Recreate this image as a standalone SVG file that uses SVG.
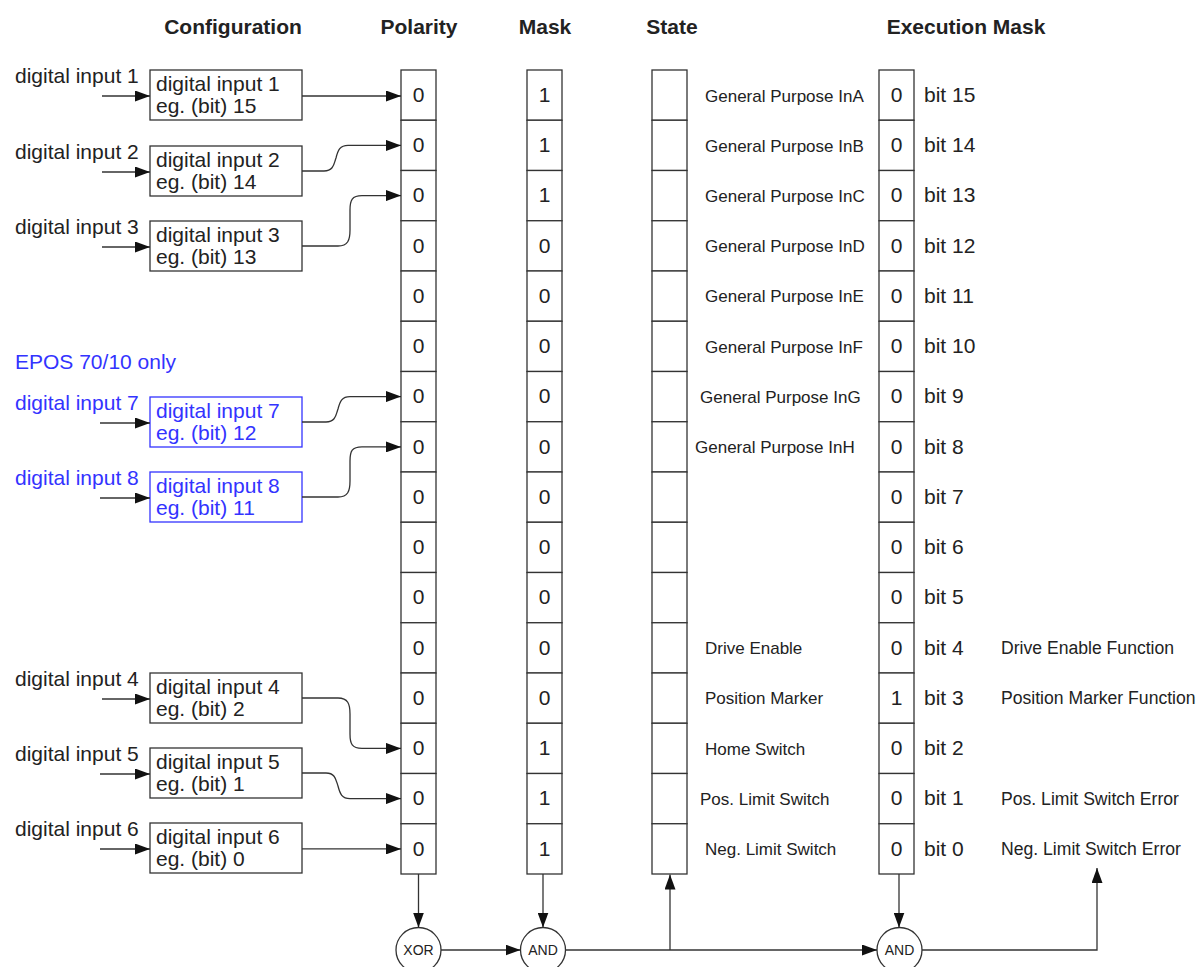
<svg xmlns="http://www.w3.org/2000/svg" width="1200" height="967" viewBox="0 0 1200 967">
<style>
text{font-family:"Liberation Sans",Arial,sans-serif;fill:#222}
.h{font-size:21px;font-weight:bold;text-anchor:middle}
.t{font-size:21px}
.c{font-size:21px;text-anchor:middle}
.s{font-size:17px}
.f{font-size:17.6px}
.g{font-size:14px;text-anchor:middle}
.blue{fill:#3333ff}
.box{fill:#fff;stroke:#333;stroke-width:1.3}
.bbox{fill:#fff;stroke:#3333ff;stroke-width:1.3}
.cell{fill:#fff;stroke:#333;stroke-width:1.3}
.ln{fill:none;stroke:#333;stroke-width:1.3}
.gate{fill:#fff;stroke:#333;stroke-width:1.3}
</style>
<defs>
<marker id="ah" markerUnits="userSpaceOnUse" markerWidth="15" markerHeight="11" refX="15" refY="5.5" orient="auto">
<path d="M0,0 L15,5.5 L0,11 z" fill="#111"/>
</marker>
</defs>
<rect width="1200" height="967" fill="#fff"/>

<g id="headers">
<text class="h" x="233" y="34">Configuration</text>
<text class="h" x="419" y="34">Polarity</text>
<text class="h" x="545" y="34">Mask</text>
<text class="h" x="672" y="34">State</text>
<text class="h" x="966" y="34">Execution Mask</text>
</g>

<g id="labels">
<text class="t" x="15" y="83">digital input 1</text>
<text class="t" x="15" y="159">digital input 2</text>
<text class="t" x="15" y="234">digital input 3</text>
<text class="t blue" x="15" y="369">EPOS 70/10 only</text>
<text class="t blue" x="15" y="410">digital input 7</text>
<text class="t blue" x="15" y="485">digital input 8</text>
<text class="t" x="15" y="686">digital input 4</text>
<text class="t" x="15" y="761">digital input 5</text>
<text class="t" x="15" y="836">digital input 6</text>
</g>

<g id="cfg1"><rect class="box" x="150" y="70" width="152" height="50"/><text class="t" x="156" y="91">digital input 1</text><text class="t" x="156" y="112.5">eg. (bit) 15</text></g>
<g id="cfg2"><rect class="box" x="150" y="146" width="152" height="50"/><text class="t" x="156" y="167">digital input 2</text><text class="t" x="156" y="188.5">eg. (bit) 14</text></g>
<g id="cfg3"><rect class="box" x="150" y="221" width="152" height="50"/><text class="t" x="156" y="242">digital input 3</text><text class="t" x="156" y="263.5">eg. (bit) 13</text></g>
<g id="cfg7"><rect class="bbox" x="150" y="397" width="152" height="50"/><text class="t blue" x="156" y="418">digital input 7</text><text class="t blue" x="156" y="439.5">eg. (bit) 12</text></g>
<g id="cfg8"><rect class="bbox" x="150" y="472" width="152" height="50"/><text class="t blue" x="156" y="493">digital input 8</text><text class="t blue" x="156" y="514.5">eg. (bit) 11</text></g>
<g id="cfg4"><rect class="box" x="150" y="673" width="152" height="50"/><text class="t" x="156" y="694">digital input 4</text><text class="t" x="156" y="715.5">eg. (bit) 2</text></g>
<g id="cfg5"><rect class="box" x="150" y="748" width="152" height="50"/><text class="t" x="156" y="769">digital input 5</text><text class="t" x="156" y="790.5">eg. (bit) 1</text></g>
<g id="cfg6"><rect class="box" x="150" y="823" width="152" height="50"/><text class="t" x="156" y="844">digital input 6</text><text class="t" x="156" y="865.5">eg. (bit) 0</text></g>

<g id="polarity">
<rect class="cell" x="401" y="70" width="35" height="50.25"/><rect class="cell" x="401" y="120.25" width="35" height="50.25"/><rect class="cell" x="401" y="170.5" width="35" height="50.25"/><rect class="cell" x="401" y="220.75" width="35" height="50.25"/>
<rect class="cell" x="401" y="271" width="35" height="50.25"/><rect class="cell" x="401" y="321.25" width="35" height="50.25"/><rect class="cell" x="401" y="371.5" width="35" height="50.25"/><rect class="cell" x="401" y="421.75" width="35" height="50.25"/>
<rect class="cell" x="401" y="472" width="35" height="50.25"/><rect class="cell" x="401" y="522.25" width="35" height="50.25"/><rect class="cell" x="401" y="572.5" width="35" height="50.25"/><rect class="cell" x="401" y="622.75" width="35" height="50.25"/>
<rect class="cell" x="401" y="673" width="35" height="50.25"/><rect class="cell" x="401" y="723.25" width="35" height="50.25"/><rect class="cell" x="401" y="773.5" width="35" height="50.25"/><rect class="cell" x="401" y="823.75" width="35" height="50.25"/>
<text class="c" x="418.5" y="102">0</text><text class="c" x="418.5" y="152">0</text><text class="c" x="418.5" y="202">0</text><text class="c" x="418.5" y="252.5">0</text>
<text class="c" x="418.5" y="302.5">0</text><text class="c" x="418.5" y="353">0</text><text class="c" x="418.5" y="403">0</text><text class="c" x="418.5" y="453.5">0</text>
<text class="c" x="418.5" y="503.5">0</text><text class="c" x="418.5" y="554">0</text><text class="c" x="418.5" y="604">0</text><text class="c" x="418.5" y="654.5">0</text>
<text class="c" x="418.5" y="704.5">0</text><text class="c" x="418.5" y="755">0</text><text class="c" x="418.5" y="805">0</text><text class="c" x="418.5" y="855.5">0</text>
</g>

<g id="mask">
<rect class="cell" x="527" y="70" width="35" height="50.25"/><rect class="cell" x="527" y="120.25" width="35" height="50.25"/><rect class="cell" x="527" y="170.5" width="35" height="50.25"/><rect class="cell" x="527" y="220.75" width="35" height="50.25"/>
<rect class="cell" x="527" y="271" width="35" height="50.25"/><rect class="cell" x="527" y="321.25" width="35" height="50.25"/><rect class="cell" x="527" y="371.5" width="35" height="50.25"/><rect class="cell" x="527" y="421.75" width="35" height="50.25"/>
<rect class="cell" x="527" y="472" width="35" height="50.25"/><rect class="cell" x="527" y="522.25" width="35" height="50.25"/><rect class="cell" x="527" y="572.5" width="35" height="50.25"/><rect class="cell" x="527" y="622.75" width="35" height="50.25"/>
<rect class="cell" x="527" y="673" width="35" height="50.25"/><rect class="cell" x="527" y="723.25" width="35" height="50.25"/><rect class="cell" x="527" y="773.5" width="35" height="50.25"/><rect class="cell" x="527" y="823.75" width="35" height="50.25"/>
<text class="c" x="544.5" y="102">1</text><text class="c" x="544.5" y="152">1</text><text class="c" x="544.5" y="202">1</text><text class="c" x="544.5" y="252.5">0</text>
<text class="c" x="544.5" y="302.5">0</text><text class="c" x="544.5" y="353">0</text><text class="c" x="544.5" y="403">0</text><text class="c" x="544.5" y="453.5">0</text>
<text class="c" x="544.5" y="503.5">0</text><text class="c" x="544.5" y="554">0</text><text class="c" x="544.5" y="604">0</text><text class="c" x="544.5" y="654.5">0</text>
<text class="c" x="544.5" y="704.5">0</text><text class="c" x="544.5" y="755">1</text><text class="c" x="544.5" y="805">1</text><text class="c" x="544.5" y="855.5">1</text>
</g>

<g id="state">
<rect class="cell" x="652" y="70" width="35" height="50.25"/><rect class="cell" x="652" y="120.25" width="35" height="50.25"/><rect class="cell" x="652" y="170.5" width="35" height="50.25"/><rect class="cell" x="652" y="220.75" width="35" height="50.25"/>
<rect class="cell" x="652" y="271" width="35" height="50.25"/><rect class="cell" x="652" y="321.25" width="35" height="50.25"/><rect class="cell" x="652" y="371.5" width="35" height="50.25"/><rect class="cell" x="652" y="421.75" width="35" height="50.25"/>
<rect class="cell" x="652" y="472" width="35" height="50.25"/><rect class="cell" x="652" y="522.25" width="35" height="50.25"/><rect class="cell" x="652" y="572.5" width="35" height="50.25"/><rect class="cell" x="652" y="622.75" width="35" height="50.25"/>
<rect class="cell" x="652" y="673" width="35" height="50.25"/><rect class="cell" x="652" y="723.25" width="35" height="50.25"/><rect class="cell" x="652" y="773.5" width="35" height="50.25"/><rect class="cell" x="652" y="823.75" width="35" height="50.25"/>
<text class="s" x="705" y="101.5">General Purpose InA</text>
<text class="s" x="705" y="151.5">General Purpose InB</text>
<text class="s" x="705" y="201.5">General Purpose InC</text>
<text class="s" x="705" y="252">General Purpose InD</text>
<text class="s" x="705" y="302">General Purpose InE</text>
<text class="s" x="705" y="352.5">General Purpose InF</text>
<text class="s" x="700" y="402.5">General Purpose InG</text>
<text class="s" x="695" y="453">General Purpose InH</text>
<text class="s" x="705" y="654">Drive Enable</text>
<text class="s" x="705" y="704">Position Marker</text>
<text class="s" x="705" y="754.5">Home Switch</text>
<text class="s" x="700" y="804.5">Pos. Limit Switch</text>
<text class="s" x="705" y="855">Neg. Limit Switch</text>
</g>

<g id="execmask">
<rect class="cell" x="879" y="70" width="35" height="50.25"/><rect class="cell" x="879" y="120.25" width="35" height="50.25"/><rect class="cell" x="879" y="170.5" width="35" height="50.25"/><rect class="cell" x="879" y="220.75" width="35" height="50.25"/>
<rect class="cell" x="879" y="271" width="35" height="50.25"/><rect class="cell" x="879" y="321.25" width="35" height="50.25"/><rect class="cell" x="879" y="371.5" width="35" height="50.25"/><rect class="cell" x="879" y="421.75" width="35" height="50.25"/>
<rect class="cell" x="879" y="472" width="35" height="50.25"/><rect class="cell" x="879" y="522.25" width="35" height="50.25"/><rect class="cell" x="879" y="572.5" width="35" height="50.25"/><rect class="cell" x="879" y="622.75" width="35" height="50.25"/>
<rect class="cell" x="879" y="673" width="35" height="50.25"/><rect class="cell" x="879" y="723.25" width="35" height="50.25"/><rect class="cell" x="879" y="773.5" width="35" height="50.25"/><rect class="cell" x="879" y="823.75" width="35" height="50.25"/>
<text class="c" x="896.5" y="102">0</text><text class="c" x="896.5" y="152">0</text><text class="c" x="896.5" y="202">0</text><text class="c" x="896.5" y="252.5">0</text>
<text class="c" x="896.5" y="302.5">0</text><text class="c" x="896.5" y="353">0</text><text class="c" x="896.5" y="403">0</text><text class="c" x="896.5" y="453.5">0</text>
<text class="c" x="896.5" y="503.5">0</text><text class="c" x="896.5" y="554">0</text><text class="c" x="896.5" y="604">0</text><text class="c" x="896.5" y="654.5">0</text>
<text class="c" x="896.5" y="704.5">1</text><text class="c" x="896.5" y="755">0</text><text class="c" x="896.5" y="805">0</text><text class="c" x="896.5" y="855.5">0</text>
<text class="t" x="924" y="102">bit 15</text><text class="t" x="924" y="152">bit 14</text><text class="t" x="924" y="202">bit 13</text><text class="t" x="924" y="252.5">bit 12</text>
<text class="t" x="924" y="302.5">bit 11</text><text class="t" x="924" y="353">bit 10</text><text class="t" x="924" y="403">bit 9</text><text class="t" x="924" y="453.5">bit 8</text>
<text class="t" x="924" y="503.5">bit 7</text><text class="t" x="924" y="554">bit 6</text><text class="t" x="924" y="604">bit 5</text><text class="t" x="924" y="654.5">bit 4</text>
<text class="t" x="924" y="704.5">bit 3</text><text class="t" x="924" y="755">bit 2</text><text class="t" x="924" y="805">bit 1</text><text class="t" x="924" y="855.5">bit 0</text>
<text class="f" x="1001" y="654">Drive Enable Function</text>
<text class="f" x="1001" y="704">Position Marker Function</text>
<text class="f" x="1001" y="804.5">Pos. Limit Switch Error</text>
<text class="f" x="1001" y="855">Neg. Limit Switch Error</text>
</g>

<g id="xor"><circle class="gate" cx="418.5" cy="950" r="22.5"/><text class="g" x="418.5" y="955">XOR</text></g>
<g id="and1"><circle class="gate" cx="543" cy="950" r="22.5"/><text class="g" x="543" y="955">AND</text></g>
<g id="and2"><circle class="gate" cx="899.5" cy="950" r="22.5"/><text class="g" x="899.5" y="955">AND</text></g>

<g id="connectors" class="ln">
<path class="ln" marker-end="url(#ah)" d="M102,96 H150"/>
<path class="ln" marker-end="url(#ah)" d="M102,172 H150"/>
<path class="ln" marker-end="url(#ah)" d="M102,247 H150"/>
<path class="ln" marker-end="url(#ah)" d="M100,423 H150"/>
<path class="ln" marker-end="url(#ah)" d="M100,498 H150"/>
<path class="ln" marker-end="url(#ah)" d="M102,699 H150"/>
<path class="ln" marker-end="url(#ah)" d="M100,774 H150"/>
<path class="ln" marker-end="url(#ah)" d="M100,849 H150"/>
<path class="ln" marker-end="url(#ah)" d="M302,96 H401"/>
<path class="ln" marker-end="url(#ah)" d="M302,171 H324 C334,171 334,163 336,158 C338,150 340,145.4 348,145.4 H401"/>
<path class="ln" marker-end="url(#ah)" d="M302,246 H338 C348,246 350,240 350,230 V210 C350,200 352,195.6 362,195.6 H401"/>
<path class="ln" marker-end="url(#ah)" d="M302,422 H326 C336,422 336,414 338,409 C340,401 342,396.6 350,396.6 H401"/>
<path class="ln" marker-end="url(#ah)" d="M302,497 H338 C348,497 350,491 350,481 V461 C350,451 352,446.9 362,446.9 H401"/>
<path class="ln" marker-end="url(#ah)" d="M302,698 H338 C348,698 350,704 350,714 V734 C350,744 352,748.4 362,748.4 H401"/>
<path class="ln" marker-end="url(#ah)" d="M302,773 H326 C336,773 336,781 338,786 C340,794 342,798.6 350,798.6 H401"/>
<path class="ln" marker-end="url(#ah)" d="M302,848.9 H401"/>
<path class="ln" marker-end="url(#ah)" d="M418.5,874 V927.5"/>
<path class="ln" marker-end="url(#ah)" d="M543,874 V927.5"/>
<path class="ln" marker-end="url(#ah)" d="M899,874 V927.5"/>
<path class="ln" marker-end="url(#ah)" d="M441,950 H520.5"/>
<path class="ln" marker-end="url(#ah)" d="M565.5,950 H877"/>
<path class="ln" marker-end="url(#ah)" d="M670,950 V874.5"/>
<path class="ln" marker-end="url(#ah)" d="M922,950 H1097 V868"/>
</g>
</svg>
